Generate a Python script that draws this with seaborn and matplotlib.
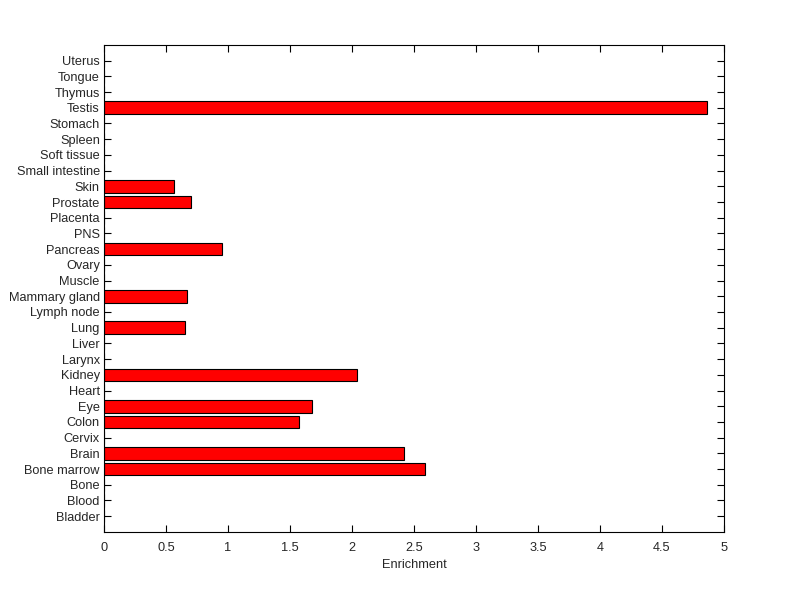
import matplotlib
matplotlib.use("Agg")
import matplotlib.pyplot as plt
import seaborn as sns
import pandas as pd

# tissues from bottom to top, as in the original
tissues = ["Bladder", "Blood", "Bone", "Bone marrow", "Brain", "Cervix", "Colon",
           "Eye", "Heart", "Kidney", "Larynx", "Liver", "Lung", "Lymph node",
           "Mammary gland", "Muscle", "Ovary", "Pancreas", "PNS", "Placenta",
           "Prostate", "Skin", "Small intestine", "Soft tissue", "Spleen",
           "Stomach", "Testis", "Thymus", "Tongue", "Uterus"]
enrichment = [0, 0, 0, 2.59, 2.42, 0, 1.575,
              1.68, 0, 2.04, 0, 0, 0.655, 0,
              0.672, 0, 0, 0.952, 0, 0,
              0.705, 0.565, 0, 0, 0,
              0, 4.86, 0, 0, 0]
x_ticks = [0, 0.5, 1, 1.5, 2, 2.5, 3, 3.5, 4, 4.5, 5]

df = pd.DataFrame({"Tissue": tissues, "Enrichment": enrichment})

sns.set_style("white")
plt.rcParams['font.family'] = ['Liberation Sans', 'DejaVu Sans']

fig = plt.figure(figsize=(8, 5.99), dpi=100)
ax = fig.add_axes([0.13, 0.112, 0.775, 0.813])

# seaborn puts the first category at the top, so reverse the order
sns.barplot(data=df, x="Enrichment", y="Tissue", order=tissues[::-1],
            color="red", saturation=1, width=0.8, edgecolor="black",
            linewidth=0.8, ax=ax)

ax.set_axisbelow(True)  # bars cover the ticks like in matlab
ax.set_xlim(0, 5)
ax.set_ylim(30, -1)
ax.set_xticks(x_ticks)
ax.set_xticklabels([f"{t:g}" for t in x_ticks])
ax.set_xlabel("Enrichment", fontsize=9.2, labelpad=4)
ax.set_ylabel("")
ax.tick_params(axis="both", direction="in", length=5, width=0.8,
               labelsize=9.2, top=True, right=True, left=True, bottom=True,
               color="black")
ax.tick_params(axis="x", pad=7)
ax.tick_params(axis="y", pad=3)
for s in ax.spines.values():
    s.set_color("black")
    s.set_linewidth(0.8)

fig.savefig("out.png", dpi=100, facecolor="white")
